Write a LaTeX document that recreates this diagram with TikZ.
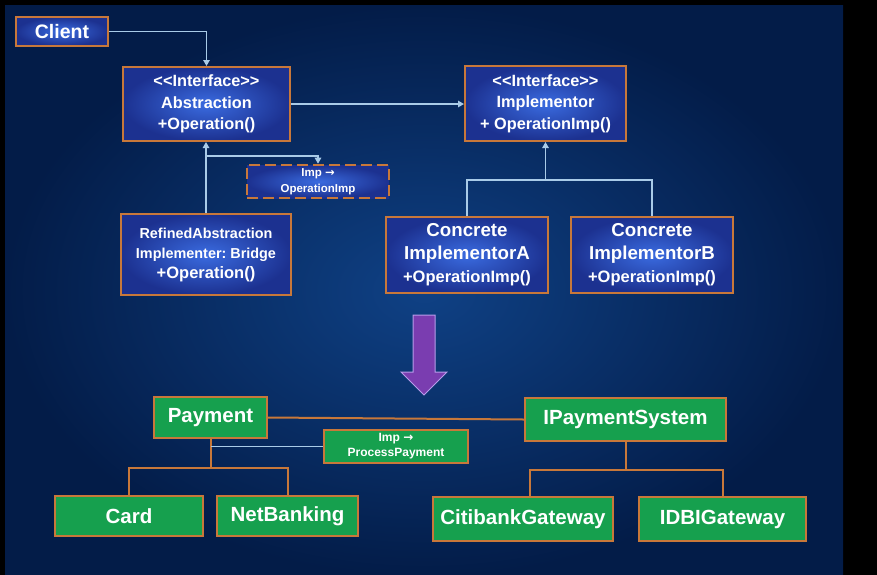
\documentclass[tikz,border=0pt]{standalone}
\usepackage{fontspec}
\setmainfont{Liberation Sans}
\newfontfamily\arwfont{DejaVu Sans}
\usetikzlibrary{arrows.meta,calc}
\definecolor{bgIn}{HTML}{0F4185}
\definecolor{bgOut}{HTML}{031C48}
\definecolor{boxIn}{HTML}{3A6BE0}
\definecolor{boxOut}{HTML}{1C3190}
\definecolor{orng}{HTML}{C8783A}
\definecolor{grn}{HTML}{16A04E}
\definecolor{lblue}{HTML}{A9CBE8}
\definecolor{purp}{HTML}{7A3DB0}
\definecolor{lav}{HTML}{B79CEA}
\newcommand{\rarr}{{\arwfont\bfseries →}}
\frenchspacing
\tikzset{
  bluebox/.style={draw=orng, line width=2pt, inner color=boxIn, outer color=boxOut,
    text=white, align=center, inner sep=0pt, font=\bfseries},
  greenbox/.style={draw=orng, line width=2pt, fill=grn, text=white, align=center,
    inner sep=0pt, font=\bfseries\fontsize{20.5}{24}\selectfont},
  dashbox/.style={bluebox, dash pattern=on 11pt off 5pt, line width=2.6pt},
  conn/.style={draw=lblue, line width=1.3pt, -{Triangle[width=6.5pt,length=6pt]}},
  lline/.style={draw=lblue, line width=1.3pt},
  oline/.style={draw=orng, line width=2pt},
}
\begin{document}
\begin{tikzpicture}[x=1pt,y=-1pt]
\useasboundingbox (0,0) rectangle (877,574);
\fill[black] (-3,-3) rectangle (880,577);
\shade[inner color=bgIn, outer color=bgOut] (5,5) rectangle (843,577);

% top UML
\node[bluebox, minimum width=92, minimum height=29, font=\bfseries\fontsize{19.5}{23}\selectfont] (client) at (62,31.5) {Client};
\node[bluebox, minimum width=167, minimum height=74, font=\bfseries\fontsize{16.3}{21.5}\selectfont] (abs) at (206.5,104) {<{}<Interface>{}>\\Abstraction\\+Operation()};
\node[bluebox, minimum width=161, minimum height=75, font=\bfseries\fontsize{16.3}{21.5}\selectfont] (imp) at (545.5,103.5) {<{}<Interface>{}>\\Implementor\\+ OperationImp()};
\node[dashbox, minimum width=142, minimum height=33, font=\bfseries\fontsize{11.5}{16}\selectfont] (dimp) at (318,181.5) {Imp \rarr\\OperationImp};
\node[bluebox, minimum width=170, minimum height=81, font=\bfseries\fontsize{14.4}{20}\selectfont] (ref) at (206,254.5) {RefinedAbstraction\\Implementer: Bridge\\\fontsize{16.5}{20}\selectfont +Operation()};
\node[bluebox, minimum width=162, minimum height=76, font=\bfseries\fontsize{18.7}{23}\selectfont] (ca) at (467,255) {Concrete\\ImplementorA\\\fontsize{16.5}{23}\selectfont +OperationImp()};
\node[bluebox, minimum width=162, minimum height=76, font=\bfseries\fontsize{18.7}{23}\selectfont] (cb) at (652,255) {Concrete\\ImplementorB\\\fontsize{16.5}{23}\selectfont +OperationImp()};

\draw[conn] (client.east) -| (abs.north);
\draw[conn] (abs.east) -- (abs.east -| imp.west);
\draw[conn] (ref.north) -- (ref.north |- abs.south);
\coordinate (brA) at ($(ref.north |- abs.south)+(0,14)$);
\draw[conn] (brA) -| (dimp.north);
\coordinate (impbar) at ($(imp.south)+(0,38)$);
\draw[lline] (ca.north) |- (impbar) -| (cb.north);
\draw[conn] (impbar) -- (imp.south);

% purple arrow
\fill[purp, draw=lav, line width=1pt] (413,315) -- (435,315) -- (435,372) -- (447,372) -- (424,395) -- (401,372) -- (413,372) -- cycle;

% bottom example
\node[greenbox, minimum width=113, minimum height=41] (pay) at (210.5,417.5) {Payment};
\node[greenbox, minimum width=201, minimum height=43] (ips) at (625.5,419.5) {IPaymentSystem};
\node[greenbox, minimum width=144, minimum height=33, font=\bfseries\fontsize{12}{15}\selectfont] (ppay) at (396,446.5) {Imp \rarr\\ProcessPayment};
\node[greenbox, minimum width=148, minimum height=40] (card) at (129,516) {Card};
\node[greenbox, minimum width=141, minimum height=40] (net) at (287.5,516) {NetBanking};
\node[greenbox, minimum width=180, minimum height=44] (citi) at (523,519) {CitibankGateway};
\node[greenbox, minimum width=167, minimum height=44] (idbi) at (722.5,519) {IDBIGateway};

\draw[oline] (pay.east) -- (ips.west);
\coordinate (paybar) at ($(pay.south)+(0,29)$);
\draw[oline] (pay.south) -- (paybar);
\draw[oline] (card.north) |- (paybar) -| (net.north);
\coordinate (payimp) at (pay.south |- ppay.west);
\draw[lline] (payimp) -- (ppay.west);
\coordinate (ipsbar) at ($(ips.south)+(0,28)$);
\draw[oline] (ips.south) -- (ipsbar);
\draw[oline] ([xshift=7pt]citi.north) |- (ipsbar) -| (idbi.north);
\end{tikzpicture}
\end{document}
